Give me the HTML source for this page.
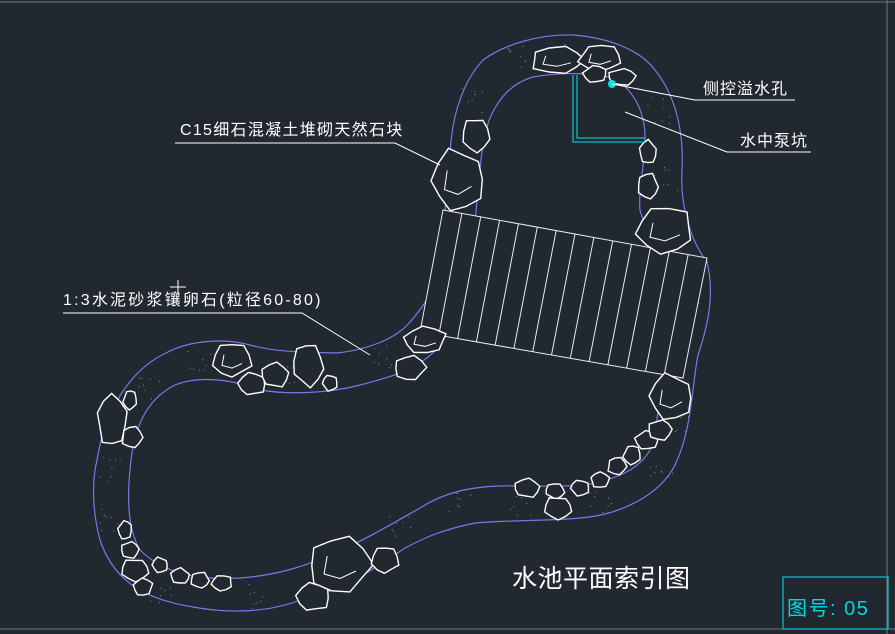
<!DOCTYPE html>
<html><head><meta charset="utf-8"><style>
html,body{margin:0;padding:0;background:#212830;}
svg{display:block}
text{font-family:"Liberation Sans","Noto Sans CJK SC",sans-serif;}
</style></head><body>
<svg id="s" width="895" height="634" viewBox="0 0 895 634" xmlns="http://www.w3.org/2000/svg">
<rect width="895" height="634" fill="#212830"/>
<line x1="0" y1="2" x2="895" y2="2" stroke="#6a7a70" stroke-width="1"/>
<line x1="887" y1="0" x2="887" y2="634" stroke="#6a7a70" stroke-width="1"/>
<line x1="0" y1="629" x2="895" y2="629" stroke="#6a7a70" stroke-width="1"/>
<g fill="none" stroke="#7a78e8" stroke-width="1.2">
<path d="M573,35 C610,38 640,50 655,70 C675,95 684,130 682,170 C680,205 690,240 707,262 C714,290 710,320 698,355 C692,385 692,430 675,465 C660,495 620,515 580,518 C550,521 510,520 475,523 C440,530 420,540 405,548 C380,565 345,590 300,600 C270,612 230,614 193,607 C150,600 115,585 100,540 C92,510 92,480 97,460 C105,410 130,370 166,353 C190,340 225,338 250,345 C275,352 300,352 337,353 C365,350 395,340 410,322 C425,305 433,290 437,280 C442,240 447,200 450,153 C452,120 460,85 483,60 C505,44 540,34 573,35 Z"/>
<path d="M533,77 C560,72 600,72 617,80 C632,90 645,110 645,137 C645,165 638,190 640,210 C643,225 655,232 662,245 C672,265 674,290 672,315 C668,345 663,365 660,395 C657,420 655,440 650,450 C640,468 620,478 590,484 C560,488 530,485 500,486 C470,487 445,492 420,508 C390,525 365,540 340,550 C310,565 280,575 240,578 C200,580 165,575 140,550 C128,530 127,500 130,470 C133,430 145,400 175,385 C200,375 235,380 260,390 C290,395 330,393 360,385 C390,377 420,370 440,345 C452,328 458,310 462,290 C468,260 475,230 477,200 C480,165 483,135 490,118 C500,95 515,82 533,77 Z"/>
</g>
<g id="dots" fill="#8a8fb0"></g>
<g stroke="#e8e8ff" stroke-width="1" fill="none">
<polygon points="443,210 707,258 683,378 420,332" fill="#212830"/>
<g id="slats"></g>
</g>
<g id="rocks" stroke="#ffffff" stroke-width="1.4" fill="#212830"></g>
<g stroke="#00e5ee" stroke-width="1" fill="none">
<polyline points="573,75 573,142 645,142"/>
<polyline points="577,75 577,138 645,138"/>
</g>
<circle cx="612" cy="84" r="4" fill="#00e5ee"/>
<g stroke="#ffffff" stroke-width="1" fill="none">
<polyline points="612,84 695,100 795,100"/>
<polyline points="625,112 727,152 811,152"/>
<polyline points="175,143 395,143 440,165"/>
<polyline points="63,313 302,313 370,355"/>
<line x1="170" y1="287" x2="186" y2="287"/><line x1="178" y1="280" x2="178" y2="294"/>
</g>
<g fill="#ffffff" font-size="16">
<text x="180" y="135" letter-spacing="1.3">C15细石混凝土堆砌天然石块</text>
<text x="63" y="305" letter-spacing="2.2">1:3水泥砂浆镶卵石(粒径60-80)</text>
<text x="703" y="94" letter-spacing="1">侧控溢水孔</text>
<text x="740" y="146" letter-spacing="1">水中泵坑</text>
<text x="512" y="587" font-size="25" letter-spacing="0.5">水池平面索引图</text>
</g>
<rect x="783" y="577" width="105" height="52" fill="none" stroke="#00c8d0" stroke-width="1.2"/>
<text x="787" y="615" font-size="20" fill="#00d8e0" letter-spacing="1.5">图号: 05</text>
</svg>
<script>
var NS="http://www.w3.org/2000/svg";
var sl=document.getElementById("slats");
for(var i=1;i<14;i++){var t=i/14;var l=document.createElementNS(NS,"line");
l.setAttribute("x1",443+264*t);l.setAttribute("y1",210+48*t);l.setAttribute("x2",420+263*t);l.setAttribute("y2",332+46*t);sl.appendChild(l);}
var R=[[557,60,28,14],[600,58,22,14],[595,74,12,9],[622,77,14,9],[476,135,14,18],[458,180,27,32],[648,152,9,12],[648,186,11,13],[665,230,30,24],[425,340,22,14],[410,368,16,13],[232,360,20,18],[252,384,14,12],[275,375,14,13],[308,365,16,22],[330,383,8,8],[112,420,16,26],[132,437,11,11],[130,400,7,10],[125,530,7,10],[130,550,9,9],[135,570,14,12],[160,565,8,8],[180,576,10,8],[200,580,10,8],[222,583,11,8],[143,587,10,9],[340,565,32,30],[385,560,14,14],[313,597,17,15],[527,488,13,10],[555,491,10,8],[580,488,10,8],[600,480,10,8],[617,466,10,9],[632,455,9,10],[647,440,12,10],[660,430,12,11],[558,508,14,12],[671,397,22,24]];
var F=[1,.85,1,.9,1.05,.8,.95,.9,1.02,.88];
var g=document.getElementById("rocks");
R.forEach(function(r,k){var p=[];var n=10;for(var j=0;j<n;j++){var a=j*2*Math.PI/n+k;var f=F[(j+k)%10];p.push((r[0]+r[2]*f*Math.cos(a)).toFixed(1)+","+(r[1]+r[3]*f*Math.sin(a)).toFixed(1));}
var pg=document.createElementNS(NS,"polygon");pg.setAttribute("points",p.join(" "));g.appendChild(pg);
if(r[2]>18){var q=document.createElementNS(NS,"polyline");q.setAttribute("fill","none");q.setAttribute("stroke-width","1");
q.setAttribute("points",(r[0]-r[2]*.4)+","+(r[1]-r[3]*.3)+" "+(r[0]-r[2]*.5)+","+(r[1]+r[3]*.3)+" "+(r[0])+","+(r[1]+r[3]*.45)+" "+(r[0]+r[2]*.5)+","+(r[1]+r[3]*.2));g.appendChild(q);}
});
var d=document.getElementById("dots");var seed=7;function rnd(){seed=(seed*9301+49297)%233280;return seed/233280;}
var pts=[[560,55],[470,100],[458,240],[440,300],[380,355],[300,370],[200,360],[150,390],[112,470],[112,520],[160,590],[250,595],[330,570],[400,525],[460,505],[520,503],[600,500],[660,470],[678,420],[690,300],[665,180],[660,110],[520,55]];
pts.forEach(function(c){for(var i=0;i<8;i++){var e=document.createElementNS(NS,"rect");e.setAttribute("x",c[0]+(rnd()-.5)*26);e.setAttribute("y",c[1]+(rnd()-.5)*26);e.setAttribute("width",1);e.setAttribute("height",1);d.appendChild(e);}});
</script>
</body></html>
